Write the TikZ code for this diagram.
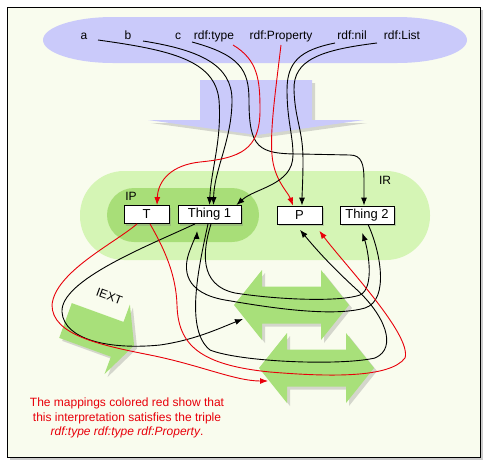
\documentclass[tikz,border=0pt]{standalone}
\usepackage{fontspec}
\setmainfont{Liberation Sans}
\usetikzlibrary{arrows.meta,shadows}
\definecolor{paper}{HTML}{F9FCEE}
\definecolor{lavender}{HTML}{CACAFA}
\definecolor{irgreen}{HTML}{D5F5B5}
\definecolor{ipgreen}{HTML}{A8DE78}
\definecolor{pairgreen}{HTML}{A8E07A}
\definecolor{mapred}{HTML}{E8000A}
\begin{document}
\begin{tikzpicture}[x=1pt,y=-1pt]
        \tikzset{box/.style = {draw, fill=white, line width=0.8pt, minimum height=18pt, inner sep=0pt,
                font=\fontsize{13}{13}\selectfont, drop shadow={shadow xshift=2pt, shadow yshift=-2pt, opacity=0.35}},
                lbl/.style = {inner sep=0pt, text height=9pt, text depth=2.5pt, font=\fontsize{12}{12}\selectfont},
                shade/.style = {drop shadow={shadow xshift=3pt, shadow yshift=-3pt, opacity=0.3}},
                map/.style = {line width=0.9pt, -{Latex[length=8pt,width=6pt]}},
                redmap/.style = {map, mapred}};
        \useasboundingbox (0,0) rectangle (487,464);
        \draw[fill=paper, line width=1pt, drop shadow={shadow xshift=2.5pt, shadow yshift=-2.5pt, opacity=0.4}]
        (7,7) rectangle (480,457);
        % vocabulary and the mapping arrow
        \fill[lavender] (113,17) -- (397,17) arc[start angle=-90, end angle=90, x radius=70, y radius=23]
        -- (113,63) arc[start angle=90, end angle=270, x radius=70, y radius=23] -- cycle;
        \fill[lavender, shade] (200,80) -- (312,80) -- (312,120) -- (364,120) -- (257,135) -- (148,120)
        -- (200,120) -- cycle;
        % IR and IP
        \fill[irgreen, rounded corners=44pt] (80,171) rectangle (430,260);
        \fill[ipgreen, rounded corners=27pt] (107,188) rectangle (259,242);
        \node[lbl] (ir) at (385,181) {IR};
        \node[lbl] (ip) at (131,197) {IP};
        % pairs and IEXT
        \foreach \dx/\dy in {0/0, 25/63}
        \fill[pairgreen, shade, shift={(\dx,\dy)}] (234,305) -- (262,270) -- (262,286.5) -- (321,286.5)
        -- (321,270) -- (349,305) -- (321,340) -- (321,323.5) -- (262,323.5) -- (262,340) -- cycle;
        \coordinate (pairone) at (243,319);
        \coordinate (pairtwo) at (268,381);
        \fill[pairgreen, shade] (71.8,303.1) -- (123.5,321.9) -- (129.9,304.5) -- (134.1,345.5)
        -- (104.5,374.1) -- (110.9,356.7) -- (59.2,337.9) -- cycle;
        \node[lbl, rotate=-20] (iext) at (109,297) {IEXT};
        % resources
        \node[box, minimum width=45pt] (T) at (146.5,214.5) {T};
        \node[box, minimum width=63pt] (thing1) at (209.5,214.5) {Thing 1};
        \node[box, minimum width=45pt] (P) at (299.5,215) {P};
        \node[box, minimum width=54pt] (thing2) at (367,215) {Thing 2};
        % names
        \node[lbl] (a) at (84,36) {a};
        \node[lbl] (b) at (128,36) {b};
        \node[lbl] (c) at (178,36) {c};
        \node[lbl] (rdftype) at (214,36) {rdf:type};
        \node[lbl] (rdfprop) at (281,36) {rdf:Property};
        \node[lbl] (rdfnil) at (352,36) {rdf:nil};
        \node[lbl] (rdflist) at (402,36) {rdf:List};
        \draw[map] ([shift={(14,4)}]a.center) .. controls (170,50) and (215,60) .. (219,100)
        .. controls (222,140) and (211,170) .. (thing1.north);
        \draw[map] ([shift={(15,5)}]b.center) .. controls (200,50) and (232,65) .. (232,100)
        .. controls (232,140) and (214,170) .. ([xshift=4pt]thing1.north);
        \draw[map] ([shift={(14,6)}]c.center) .. controls (240,55) and (249,70) .. (249,100)
        .. controls (249,148) and (258,154) .. (300,154) -- (350,155)
        .. controls (362,155) and (364,165) .. (364,180) -- ([xshift=-3pt]thing2.north);
        \draw[redmap] ([shift={(19,9)}]rdftype.center) .. controls (258,60) and (260,80) .. (260,110)
        .. controls (260,150) and (240,158) .. (200,162)
        .. controls (172,165) and (158,180) .. ([xshift=10.5pt]T.north);
        \draw[redmap] ([shift={(0,9)}]rdfprop.center) .. controls (275,95) and (270,130) .. (272,155)
        .. controls (274,180) and (288,192) .. ([xshift=-6.5pt]P.north);
        \draw[map] ([shift={(-17,7)}]rdfnil.center) .. controls (300,50) and (287,62) .. (287,90)
        .. controls (287,120) and (293,135) .. (293,155)
        .. controls (293,185) and (255,188) .. ([xshift=-5pt]thing1.north east);
        \draw[map] ([shift={(-25,7)}]rdflist.center) .. controls (320,50) and (293,60) .. (294,90)
        .. controls (295,120) and (303,130) .. (303,160)
        .. controls (303,180) and (302,195) .. ([xshift=2.5pt]P.north);
        % extensions
        \draw[map] ([xshift=-14.5pt]thing1.south) .. controls (150,245) and (60,280) .. (62,312)
        .. controls (64,340) and (110,350) .. (160,345) .. controls (195,340) and (220,328) .. (pairone);
        \draw[map, shorten >=9pt] ([xshift=1.5pt]thing1.south) .. controls (203,250) and (198,285) .. (235,293)
        .. controls (280,300) and (340,302) .. (360,295)
        .. controls (375,288) and (368,250) .. ([xshift=-7.5pt]thing2.south);
        \draw[map, shorten >=7pt] ([xshift=1pt]thing2.south) .. controls (380,250) and (390,300) .. (365,308)
        .. controls (330,318) and (260,306) .. (225,300) .. controls (185,293) and (182,270) .. (190,250)
        .. controls (193,242) and (197,232) .. ([xshift=-12pt]thing1.south);
        \draw[map, shorten >=7pt] ([xshift=-1.5pt]thing1.south) .. controls (198,270) and (185,330) .. (210,350)
        .. controls (240,362) and (340,366) .. (375,358) .. controls (398,348) and (385,315) .. (355,288)
        .. controls (330,265) and (315,248) .. ([xshift=-4pt]P.south);
        \draw[redmap] ([xshift=-9.5pt]T.south) .. controls (115,243) and (55,272) .. (52,305)
        .. controls (52,335) and (100,345) .. (150,355) .. controls (200,365) and (235,381) .. (pairtwo);
        \draw[redmap, shorten >=8pt] ([xshift=3.5pt]T.south) .. controls (165,250) and (176,275) .. (177,305)
        .. controls (178,345) and (200,365) .. (270,372) .. controls (330,377) and (390,378) .. (405,358)
        .. controls (412,335) and (345,265) .. ([xshift=15pt]P.south);
        \node[text=mapred, align=center, font=\fontsize{12}{14.5}\selectfont] (note) at (127,418)
        {The mappings colored red show that\\this interpretation satisfies the triple\\
                \textit{rdf:type rdf:type rdf:Property}.};
\end{tikzpicture}
\end{document}
